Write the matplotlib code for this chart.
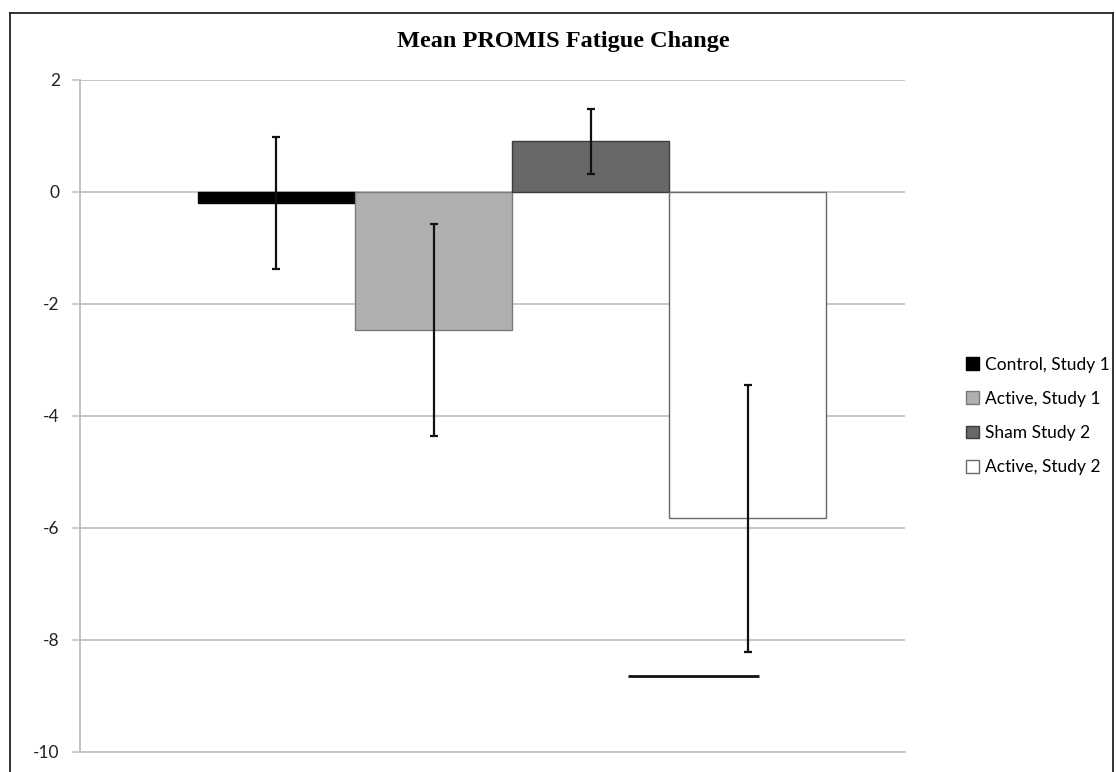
import matplotlib
matplotlib.use("Agg")
import matplotlib.pyplot as plt
from matplotlib.patches import Patch
from matplotlib.lines import Line2D

# ---- data ----
series = ["Control, Study 1", "Active, Study 1", "Sham Study 2", "Active, Study 2"]
means = [-0.20, -2.47, 0.91, -5.83]
errors = [1.18, 1.89, 0.58, 2.39]
fills = ["#000000", "#b0b0b0", "#686868", "#ffffff"]
edges = ["#000000", "#7a7a7a", "#3c3c3c", "#6a6a6a"]
yticks = [2, 0, -2, -4, -6, -8, -10]
title = "Mean PROMIS Fatigue Change"
stray_y = -8.65
stray_x = (2.24, 3.07)

W, H = 1116, 772
fig = plt.figure(figsize=(W / 100, H / 100), dpi=100)
fig.patch.set_facecolor("white")

ax = fig.add_axes([80 / W, (H - 752) / H, 825 / W, 672 / H])
xpos = list(range(len(series)))
for i in xpos:
    ax.bar(i, means[i], width=1.0, color=fills[i], edgecolor=edges[i],
           linewidth=1.0, zorder=3)
ax.errorbar(xpos, means, yerr=errors, fmt="none", ecolor="#111111",
            elinewidth=1.6, capsize=2.6, capthick=1.6, zorder=4)
ax.hlines(stray_y, stray_x[0], stray_x[1], color="#111111", linewidth=2.0, zorder=4)

ax.set_xlim(-1.25, 4.0)
ax.set_ylim(-10, 2)
ax.set_yticks(yticks)
ax.set_yticklabels([str(t) for t in yticks], fontsize=12.5, family="Lato",
                   color="#222222")
ax.set_xticks([])
ax.yaxis.grid(True, color="#c4c4c4", linewidth=1.3, zorder=0)
ax.set_axisbelow(True)
for s in ["top", "right"]:
    ax.spines[s].set_visible(False)
ax.spines["left"].set_color("#b8b8b8")
ax.spines["left"].set_linewidth(1.2)
ax.spines["bottom"].set_color("#c4c4c4")
ax.spines["bottom"].set_linewidth(1.3)
ax.tick_params(axis="y", length=5.5, width=1.2, color="#c4c4c4", pad=9)

fig.text(563 / W, 1 - 42 / H, title, ha="center", va="center",
         family="Liberation Serif", fontweight="bold", fontsize=17.5)

handles = [Patch(facecolor=fills[i], edgecolor=edges[i] if i else "#000000",
                 linewidth=1.0) for i in xpos]
fig.legend(handles, series, loc="center left",
           bbox_to_anchor=(966 / W, 1 - 416 / H), frameon=False,
           prop={"family": "Lato", "size": 12.5}, handlelength=0.75,
           handleheight=0.75, handletextpad=0.35, labelspacing=1.05,
           borderaxespad=0, borderpad=0)

# outer frame
for xs, ys in [([10 / W, 10 / W], [0, 1 - 13 / H]),
               ([10 / W, 1113 / W], [1 - 13 / H, 1 - 13 / H]),
               ([1113 / W, 1113 / W], [1 - 13 / H, 0])]:
    fig.add_artist(Line2D(xs, ys, transform=fig.transFigure, color="#222222",
                          linewidth=1.3))

fig.savefig("out.png", dpi=100, facecolor="white")
